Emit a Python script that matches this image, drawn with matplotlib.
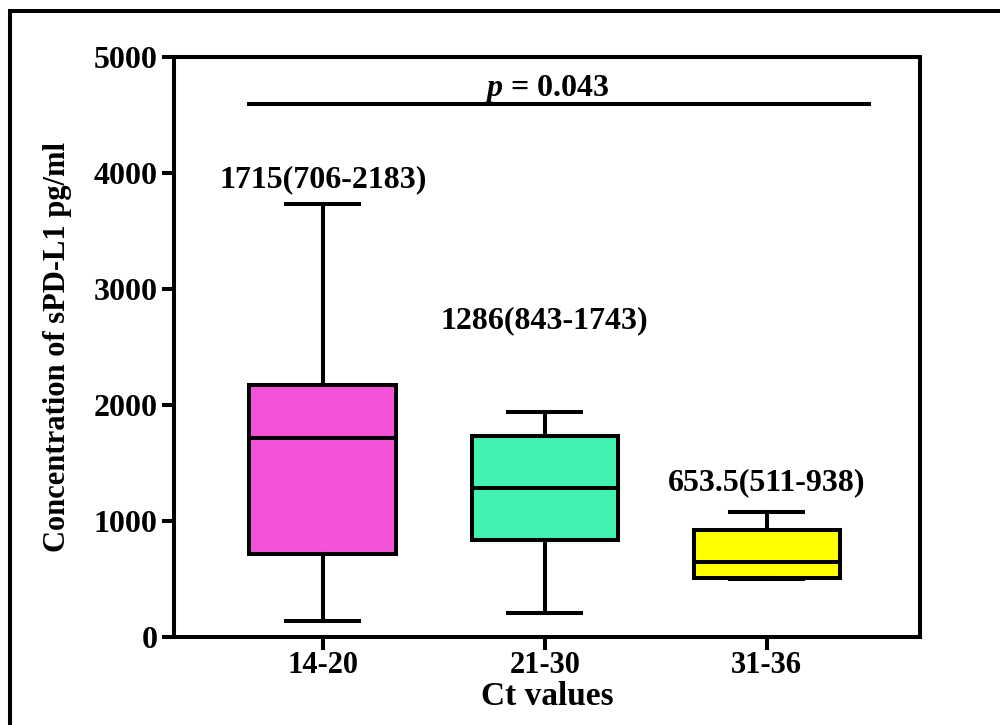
import matplotlib
matplotlib.use("Agg")
import matplotlib.pyplot as plt
from matplotlib.patches import Rectangle

groups = ["14-20", "21-30", "31-36"]
whislo = [140, 210, 500]
q1 = [715, 840, 510]
med = [1715, 1286, 645]
q3 = [2170, 1735, 925]
whishi = [3730, 1940, 1080]
colors = ["#F452D8", "#42F2B0", "#FFFF00"]
labels = ["1715(706-2183)", "1286(843-1743)", "653.5(511-938)"]
label_y = [3940, 2730, 1330]
p_text = "$\\mathbfit{p}$ = 0.043"

plt.rcParams["font.family"] = ["Liberation Serif", "DejaVu Serif"]
plt.rcParams["font.weight"] = "bold"
plt.rcParams["mathtext.fontset"] = "custom"
plt.rcParams["mathtext.bfit"] = "Liberation Serif:bold:italic"

fig = plt.figure(figsize=(10, 7.25), dpi=100)
ax = fig.add_axes([0.174, 0.1214, 0.746, 0.80])

stats = []
for i in range(len(groups)):
    stats.append({"whislo": whislo[i], "q1": q1[i], "med": med[i],
                  "q3": q3[i], "whishi": whishi[i], "fliers": []})

lw = 2.9
bp = ax.bxp(stats, positions=[1, 2, 3], widths=0.66, patch_artist=True,
            showfliers=False,
            boxprops=dict(linewidth=lw, edgecolor="black"),
            medianprops=dict(linewidth=lw, color="black"),
            whiskerprops=dict(linewidth=lw, color="black"),
            capprops=dict(linewidth=lw, color="black"),
            capwidths=0.33)
for patch, c in zip(bp["boxes"], colors):
    patch.set_facecolor(c)

for i, t in enumerate(labels):
    ax.text(i + 1, label_y[i], t, ha="center", va="center",
            fontsize=23, fontweight="bold")

ax.plot([0.66, 3.47], [4595, 4595], color="black", lw=lw, solid_capstyle="butt")
ax.text(2.01, 4720, p_text, ha="center", va="center", fontsize=23, fontweight="bold")

ax.set_xlim(0.33, 3.69)
ax.set_ylim(0, 5000)
ax.set_yticks([0, 1000, 2000, 3000, 4000, 5000])
ax.set_xticks([1, 2, 3])
ax.set_xticklabels(groups)
ax.tick_params(width=lw, length=9, labelsize=23, direction="out", pad=3)
ax.tick_params(axis="x", pad=1, labelsize=22)
for s in ax.spines.values():
    s.set_linewidth(lw)
ax.set_ylabel("Concentration of sPD-L1 pg/ml", fontsize=22, fontweight="bold")
ax.yaxis.set_label_coords(-0.137, 0.5)
ax.set_xlabel("Ct values", fontsize=24, fontweight="bold", labelpad=1)

fig.patches.append(Rectangle((0.010, -0.05), 1.1, 1.035, transform=fig.transFigure,
                             fill=False, edgecolor="black", linewidth=lw, clip_on=False))

fig.savefig("out.png", dpi=100)
